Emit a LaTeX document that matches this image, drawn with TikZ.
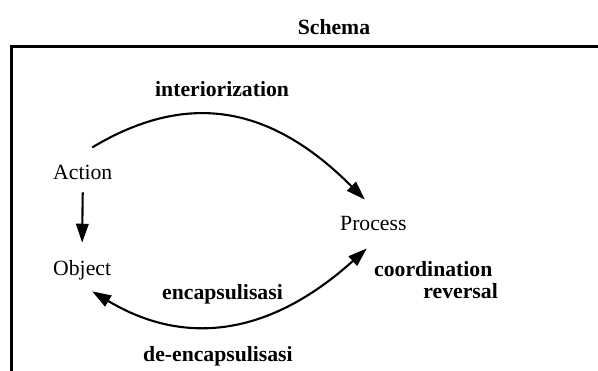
\documentclass[tikz,border=0pt]{standalone}
\usepackage{fontspec}
\setmainfont{Liberation Serif}
\usetikzlibrary{arrows.meta}
\begin{document}
\begin{tikzpicture}[x=1pt,y=-1pt,
  term/.style={inner sep=0pt,font=\fontsize{21.7}{26}\selectfont},
  tag/.style={inner sep=0pt,font=\fontsize{21.7}{26}\selectfont\bfseries},
  head/.style={Triangle[length=19pt,width=12.5pt]},
  link/.style={line width=2.1pt,-{Triangle[length=19pt,width=12.5pt]}},
  dlink/.style={line width=2.1pt,{Triangle[length=19pt,width=12.5pt]}-{Triangle[length=19pt,width=12.5pt]}},
  frame/.style={line width=3pt}]
\useasboundingbox (0,0) rectangle (598,371);
\clip (0,0) rectangle (598,371);

% schema frame, open to the right and below
\node[tag,anchor=base] (schema) at (334,35) {Schema};
\draw[frame] (11.5,46.5) rectangle (650,430);

% the three mental constructions
\node[term,anchor=base west] (act) at (53,179.5) {Action};
\node[term,anchor=base west] (obj) at (53,275.5) {Object};
\node[term,anchor=base west] (proc) at (340,231) {Process};

% mechanism labels
\node[tag,anchor=base west] (intl) at (155,96.5) {interiorization};
\node[tag,anchor=base west] (encl) at (162,299.5) {encapsulisasi};
\node[tag,anchor=base west] (deencl) at (143,361.5) {de-encapsulisasi};
\node[tag,anchor=base west] (coordl) at (374,276.5) {coordination};
\node[tag,anchor=base east] (revl) at (498,298.5) {reversal};

% transitions
\draw[link] ([shift={(0,12.5)}]act.south) -- ([shift={(0,-17.5)}]obj.north);
\draw[link] ([shift={(9.5,-17.5)}]act.north)
  .. controls +(100,-60) and +(-90,-90) .. ([shift={(-8.5,-17)}]proc.north);
\draw[dlink] ([shift={(10,11)}]obj.south)
  .. controls +(90,54) and +(-100,90) .. ([shift={(-6.5,17)}]proc.south);
\end{tikzpicture}
\end{document}
